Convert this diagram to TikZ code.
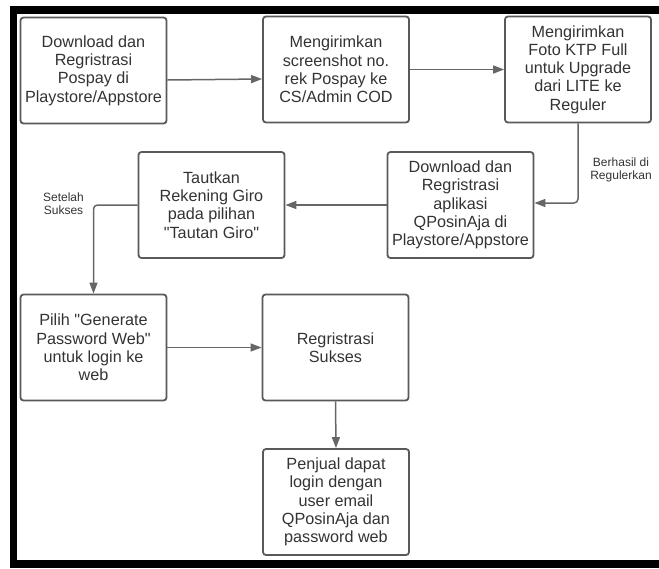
\documentclass[tikz,border=0pt]{standalone}
\usepackage{fontspec}
\setmainfont{Liberation Sans}
\newfontfamily\qf{Liberation Sans}
\usetikzlibrary{arrows.meta}
\definecolor{boxc}{HTML}{595959}
\definecolor{arrc}{HTML}{666666}
\definecolor{textc}{HTML}{333333}
\newcommand{\sq}{{\qf\symbol{34}}}
\begin{document}
\begin{tikzpicture}[x=1pt,y=-1pt,
  box/.style={draw=boxc, line width=1.8pt, rounded corners=3pt,
    minimum width=146pt, minimum height=106pt, align=center, text=textc,
    font=\fontsize{16.2}{18.3}\selectfont, inner sep=0pt},
  arr/.style={draw=arrc, line width=1.5pt, rounded corners=4pt,
    -{Triangle[length=11pt,width=8pt]}},
  lbl/.style={text=textc, font=\fontsize{12}{13.5}\selectfont, align=center, inner sep=0pt}]
\useasboundingbox (0,0) rectangle (659,568);
% frame
\fill[black] (10,6) rectangle (659,14);
\fill[black] (10,6) rectangle (17,568);
\fill[black] (10,560) rectangle (659,568);
% boxes
\node[box] (b1) at (93.5,70.5) {Download dan\\Regristrasi\\Pospay di\\Playstore/Appstore};
\node[box] (b2) at (336,69.5) {Mengirimkan\\screenshot no.\\rek Pospay ke\\CS/Admin COD};
\node[box] (b3) at (578,69.5) {Mengirimkan\\Foto KTP Full\\untuk Upgrade\\dari LITE ke\\Reguler};
\node[box] (b4) at (460.5,205) {Download dan\\Regristrasi\\aplikasi\\QPosinAja di\\Playstore/Appstore};
\node[box] (b5) at (211.5,205) {Tautkan\\Rekening Giro\\pada pilihan\\\sq Tautan Giro\sq};
\node[box] (b6) at (93.5,347.5) {Pilih \sq Generate\\Password Web\sq\\untuk login ke\\web};
\node[box] (b7) at (335.5,347.5) {Regristrasi\\Sukses};
\node[box] (b8) at (336,502) {Penjual dapat\\login dengan\\user email\\QPosinAja dan\\password web};
% labels
\node[lbl] (l1) at (621,170) {Berhasil di\\Regulerkan};
\node[lbl] (l2) at (63.5,203.5) {Setelah\\Sukses};
% connectors
\draw[arr] ([yshift=-9.5pt]b1.east) -- ([yshift=-9.5pt]b2.west);
\draw[arr] (b2.east) -- (b3.west);
\draw[arr] (b3.south) |- ([yshift=2pt]b4.east);
\draw[arr] (b4.west) -- (b5.east);
\draw[arr] (b5.west) -| (b6.north);
\draw[arr] (b6.east) -- (b7.west);
\draw[arr] (b7.south) -- (b8.north);
\end{tikzpicture}
\end{document}
